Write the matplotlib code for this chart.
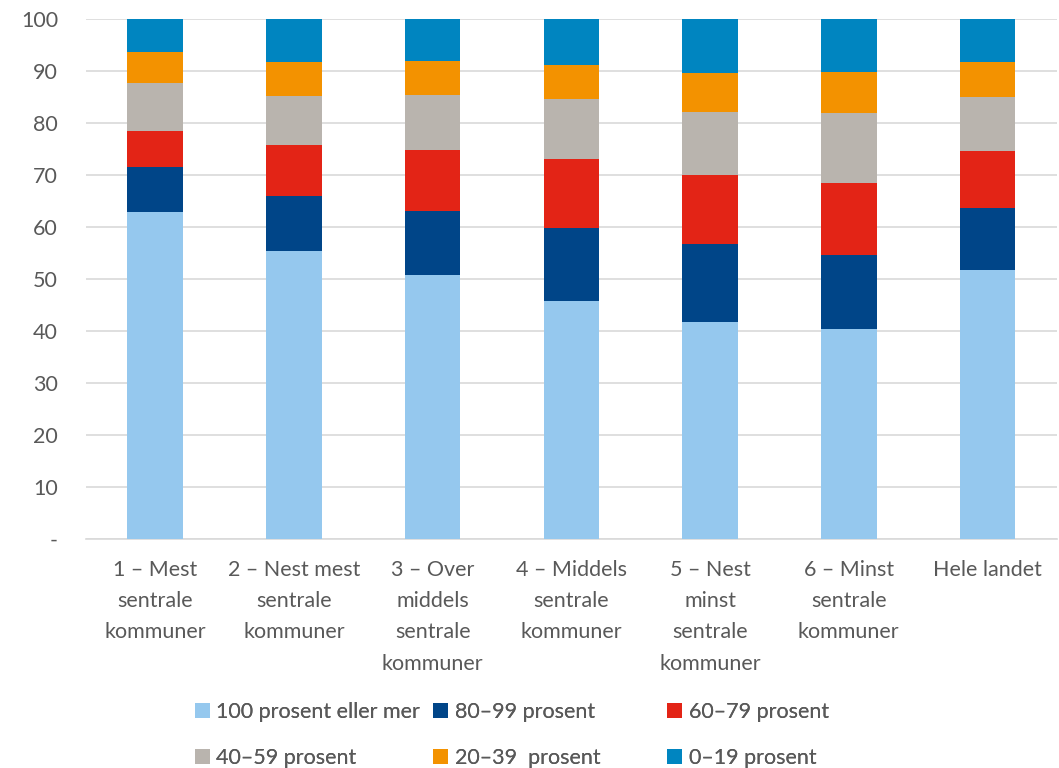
import matplotlib
matplotlib.use("Agg")
import numpy as np
import matplotlib.pyplot as plt

# =========================
# DATA
# =========================

CATEGORIES = [
    "1 – Mest\nsentrale\nkommuner",
    "2 – Nest mest\nsentrale\nkommuner",
    "3 – Over\nmiddels\nsentrale\nkommuner",
    "4 – Middels\nsentrale\nkommuner",
    "5 – Nest\nminst\nsentrale\nkommuner",
    "6 – Minst\nsentrale\nkommuner",
    "Hele landet",
]

SERIES_LABELS = [
    "100 prosent eller mer",
    "80–99 prosent",
    "60–79 prosent",
    "40–59 prosent",
    "20–39  prosent",
    "0–19 prosent",
]

S_100 = [62.9, 55.4, 50.8, 45.8, 41.7, 40.5, 51.7]
S_80_99 = [8.6, 10.6, 12.3, 14.0, 15.0, 14.1, 11.9]
S_60_79 = [7.0, 9.8, 11.7, 13.3, 13.4, 13.9, 11.0]
S_40_59 = [9.2, 9.4, 10.6, 11.5, 12.0, 13.4, 10.5]
S_20_39 = [5.9, 6.5, 6.5, 6.6, 7.5, 8.0, 6.6]
S_0_19 = [6.4, 8.3, 8.1, 8.8, 10.4, 10.1, 8.3]

COLORS = ["#95C8EE", "#004588", "#E32416", "#B9B4AE", "#F39200", "#0085C0"]

Y_TICKS = [0, 10, 20, 30, 40, 50, 60, 70, 80, 90, 100]
Y_TICK_LABELS = ["-", "10", "20", "30", "40", "50", "60", "70", "80", "90", "100"]

TEXT_COLOR = "#595959"
GRID_COLOR = "#D9D9D9"

# =========================
# PLOT
# =========================

plt.rcParams["font.family"] = ["Lato", "DejaVu Sans"]

fig = plt.figure(figsize=(10.59, 7.68), dpi=100)
ax = fig.add_axes([0.081, 0.298, 0.917, 0.677])

series = [S_100, S_80_99, S_60_79, S_40_59, S_20_39, S_0_19]
x = np.arange(len(CATEGORIES))
bottom = np.zeros(len(CATEGORIES))
handles = []
for vals, color, label in zip(series, COLORS, SERIES_LABELS):
    bars = ax.bar(x, vals, width=0.40, bottom=bottom, color=color,
                  label=label, zorder=3)
    handles.append(bars)
    bottom += np.array(vals)

ax.set_xlim(-0.5, len(CATEGORIES) - 0.5)
ax.set_ylim(0, 100)
ax.set_yticks(Y_TICKS)
ax.set_yticklabels(Y_TICK_LABELS)
ax.set_xticks(x)
ax.set_xticklabels(CATEGORIES, linespacing=1.7, va="top")

ax.grid(axis="y", color=GRID_COLOR, linewidth=1.2, zorder=0)
for side in ["top", "right", "left"]:
    ax.spines[side].set_visible(False)
ax.spines["bottom"].set_color(GRID_COLOR)
ax.spines["bottom"].set_linewidth(1.2)

ax.tick_params(axis="both", length=0, labelsize=15.5, colors=TEXT_COLOR)
ax.tick_params(axis="y", pad=20)
ax.tick_params(axis="x", pad=15)

# legend: three columns, two rows each
col_x = [0.184, 0.409, 0.630]
for i, cx in enumerate(col_x):
    hs = [handles[i], handles[i + 3]]
    ls = [SERIES_LABELS[i], SERIES_LABELS[i + 3]]
    leg = fig.legend(hs, ls, loc="upper left", bbox_to_anchor=(cx, 0.086),
                     frameon=False, fontsize=15.5, handlelength=0.7,
                     handleheight=0.7, handletextpad=0.3, labelspacing=1.2,
                     borderaxespad=0, borderpad=0)
    for t in leg.get_texts():
        t.set_color(TEXT_COLOR)
    fig.add_artist(leg)

fig.savefig("out.png", dpi=100)
plt.close(fig)
